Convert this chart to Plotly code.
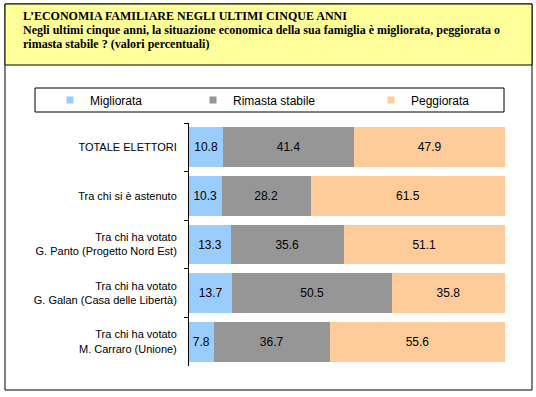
import plotly.graph_objects as go

categories = [
    "TOTALE ELETTORI",
    "Tra chi si è astenuto",
    "Tra chi ha votato<br>G. Panto (Progetto Nord Est)",
    "Tra chi ha votato<br>G. Galan (Casa delle Libertà)",
    "Tra chi ha votato<br>M. Carraro (Unione)",
]
migliorata = [10.8, 10.3, 13.3, 13.7, 7.8]
rimasta_stabile = [41.4, 28.2, 35.6, 50.5, 36.7]
peggiorata = [47.9, 61.5, 51.1, 35.8, 55.6]

series_names = ["Migliorata", "Rimasta stabile", "Peggiorata"]
series_values = [migliorata, rimasta_stabile, peggiorata]
colors = ["#99CCFF", "#969696", "#FFCC99"]

title_lines = [
    "L’ECONOMIA FAMILIARE NEGLI ULTIMI CINQUE ANNI",
    "Negli ultimi cinque anni, la situazione economica della sua famiglia è migliorata, peggiorata o",
    "rimasta stabile ? (valori percentuali)",
]

W, H = 536, 397
PL, PR, PT, PB = 189, 505, 123, 366


def px(xp):
    return (xp - PL) / (PR - PL)


def py(yp):
    return (PB - yp) / (PB - PT)


SANS = "Arial, Liberation Sans, sans-serif"
SERIF = "Times New Roman, Liberation Serif, serif"

fig = go.Figure()
for name, vals, col in zip(series_names, series_values, colors):
    fig.add_trace(go.Bar(
        y=categories, x=vals, name=name, orientation="h",
        marker=dict(color=col, line=dict(width=0)),
        text=vals, texttemplate="%{x:.1f}",
        textposition="inside", insidetextanchor="middle", textangle=0,
        constraintext="none",
        textfont=dict(family=SANS, size=12, color="black"),
        showlegend=False, hoverinfo="skip",
    ))

legend_keys = ["legend", "legend2", "legend3"]
legend_left = [50, 193, 371]
for name, col, lk in zip(series_names, colors, legend_keys):
    fig.add_trace(go.Scatter(
        x=[None], y=[None], mode="markers", name=name,
        marker=dict(symbol="square", size=7, color=col, line=dict(width=0)),
        legend=lk, showlegend=True,
    ))

legend_common = dict(
    orientation="h", xanchor="left", yanchor="middle",
    bgcolor="rgba(0,0,0,0)", borderwidth=0,
    font=dict(family=SANS, size=12, color="black"),
)

shapes = [
    dict(type="rect", xref="paper", yref="paper",
         x0=px(5), x1=px(532), y0=py(390), y1=py(4),
         line=dict(color="black", width=1), fillcolor="white", layer="below"),
    dict(type="rect", xref="paper", yref="paper",
         x0=px(5), x1=px(532), y0=py(65), y1=py(4),
         line=dict(color="black", width=1), fillcolor="#FFFF99", layer="below"),
    dict(type="rect", xref="paper", yref="paper",
         x0=px(35), x1=px(504), y0=py(112), y1=py(88),
         line=dict(color="black", width=1), fillcolor="white", layer="below"),
]

annotations = []
for ln, yc in zip(title_lines, [16, 30, 44]):
    annotations.append(dict(
        text="<b>" + ln + "</b>", xref="paper", yref="paper",
        x=px(21), y=py(yc), xanchor="left", yanchor="middle",
        showarrow=False, font=dict(family=SERIF, size=12, color="black"),
    ))

layout = dict(
    width=W, height=H,
    margin=dict(l=PL, r=W - PR, t=PT, b=H - PB, pad=0),
    paper_bgcolor="white", plot_bgcolor="white",
    barmode="stack", bargap=0.18,
    xaxis=dict(visible=False, range=[0, 100], fixedrange=True),
    yaxis=dict(
        type="category", autorange="reversed",
        showline=True, linecolor="black", linewidth=1,
        ticks="outside", tickson="boundaries", ticklen=4, tickcolor="black",
        tickwidth=1, ticklabelstandoff=9,
        tickfont=dict(family=SANS, size=11, color="black"),
        showgrid=False, zeroline=False, fixedrange=True,
    ),
    shapes=shapes, annotations=annotations,
    font=dict(family=SANS, color="black"),
)
for lk, left in zip(legend_keys, legend_left):
    layout[lk] = dict(legend_common, x=px(left), y=py(100))

fig.update_layout(**layout)
fig.write_html(
    "out.html",
    config={"displayModeBar": False},
    post_script="document.body.style.margin='0';document.body.style.padding='0';",
)
